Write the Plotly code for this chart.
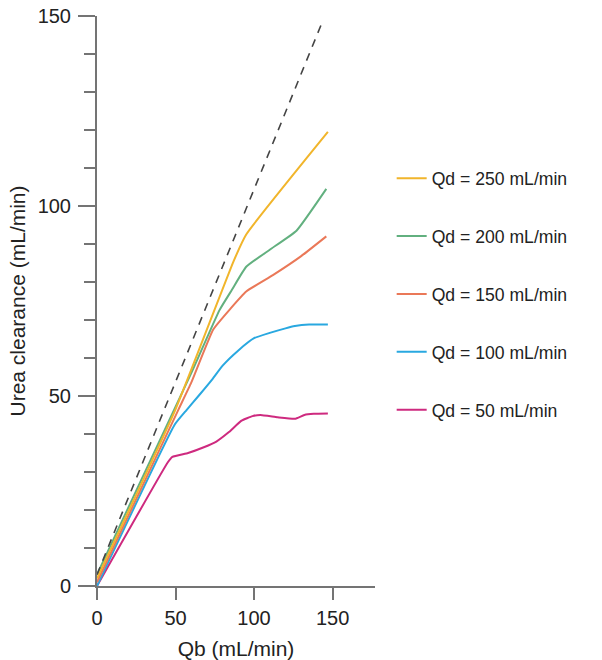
import plotly.graph_objects as go

# Blood flow (Qb) vs urea clearance for several dialysate flow rates (Qd)
qb_250 = [0, 50, 87, 95, 147]
cl_250 = [2, 46.5, 85.5, 92.5, 119.5]

qb_200 = [0, 49, 60, 78, 86, 95, 110, 127, 146]
cl_200 = [3, 46.3, 56, 72.6, 78, 84, 88.5, 93.5, 104.5]

qb_150 = [0, 51.7, 60, 74, 85, 95, 112, 130, 146]
cl_150 = [1, 46.3, 53.5, 67.5, 73, 77.5, 81.8, 86.8, 92]

qb_100 = [0, 49.5, 57, 65, 73, 80, 90, 100, 110, 120, 126, 135, 147]
cl_100 = [0, 42.5, 46.3, 50.2, 54.2, 58, 62, 65.2, 66.6, 67.8, 68.4, 68.8, 68.8]

qb_50 = [0, 45, 48, 58, 68, 76, 84, 92, 99, 104, 115, 126, 132, 138, 147]
cl_50 = [0, 32.5, 34, 35, 36.5, 38, 40.5, 43.5, 44.7, 45, 44.4, 44, 45, 45.3, 45.4]

# Ideal line (clearance equal to blood flow)
qb_ideal = [0, 144]
cl_ideal = [3, 149]

series = [
    ("Qd = 50 mL/min", qb_50, cl_50, "#CE2A7F", 5),
    ("Qd = 100 mL/min", qb_100, cl_100, "#29A8E0", 4),
    ("Qd = 150 mL/min", qb_150, cl_150, "#EA7858", 3),
    ("Qd = 200 mL/min", qb_200, cl_200, "#62B07F", 2),
    ("Qd = 250 mL/min", qb_250, cl_250, "#F1B52B", 1),
]

fig = go.Figure()
for name, xs, ys, color, rank in series:
    fig.add_trace(go.Scatter(
        x=xs, y=ys, mode="lines", name=name,
        line=dict(color=color, width=2, shape="spline", smoothing=0.4),
        legendgroup=name, legendrank=rank,
    ))

fig.add_trace(go.Scatter(
    x=qb_ideal, y=cl_ideal, mode="lines", showlegend=False,
    line=dict(color="#444444", width=1.6, dash="8px,7px"),
))

axis_color = "#747474"
family = "Liberation Sans, Arial, sans-serif"
text_color = "#222222"

fig.update_layout(
    width=602, height=660,
    margin=dict(l=97, r=227, t=16, b=74, autoexpand=False),
    paper_bgcolor="white", plot_bgcolor="white",
    font=dict(family=family, size=20, color=text_color),
    legend=dict(
        x=1.06, y=0.747, xanchor="left", yanchor="top",
        tracegroupgap=32, itemwidth=30,
        font=dict(family=family, size=17.6, color=text_color),
        bgcolor="rgba(0,0,0,0)",
    ),
    xaxis=dict(
        range=[0, 177], showgrid=False, zeroline=False,
        showline=True, linecolor=axis_color, linewidth=2,
        tickmode="array", tickvals=[0, 50, 100, 150],
        ticks="outside", ticklen=12, tickwidth=2, tickcolor=axis_color,
        tickfont=dict(size=20), ticklabelstandoff=1,
        title=dict(text="Qb (mL/min)", standoff=16, font=dict(size=21)),
    ),
    yaxis=dict(
        range=[0, 150], showgrid=False, zeroline=False,
        showline=True, linecolor=axis_color, linewidth=2,
        tickmode="array", tickvals=[0, 50, 100, 150],
        ticks="outside", ticklen=17, tickwidth=2, tickcolor=axis_color,
        tickfont=dict(size=20), ticklabelstandoff=3,
        minor=dict(dtick=10, tick0=0, ticks="outside", ticklen=11,
                   tickwidth=2, tickcolor=axis_color, showgrid=False),
        title=dict(text="Urea clearance (mL/min)", standoff=6, font=dict(size=21)),
    ),
)

fig.write_html("out.html")
